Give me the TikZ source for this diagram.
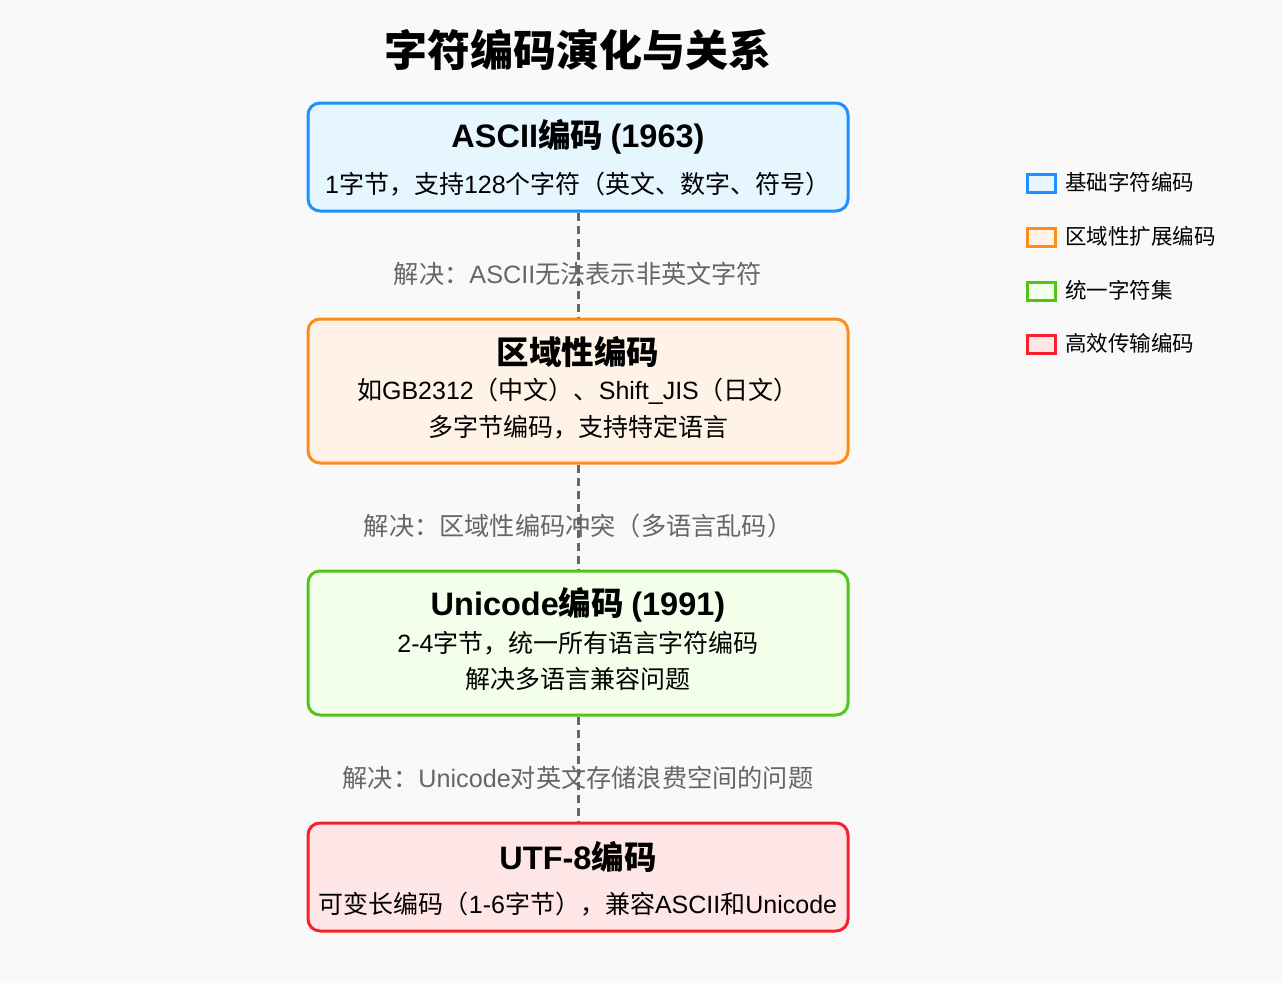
\documentclass[tikz,border=0pt]{standalone}
\usepackage{fontspec}
\setmainfont{Liberation Sans}
\newfontfamily\cjkfont{Noto Sans CJK SC}
\newcommand\latfont{\rmfamily}
\XeTeXinterchartokenstate=1
\newXeTeXintercharclass\cjkcls
\newcount\mycnt
\mycnt="4E00 \loop \XeTeXcharclass\mycnt=\cjkcls \advance\mycnt 1 \ifnum\mycnt<"A000 \repeat
\mycnt="3000 \loop \XeTeXcharclass\mycnt=\cjkcls \advance\mycnt 1 \ifnum\mycnt<"3040 \repeat
\mycnt="FF00 \loop \XeTeXcharclass\mycnt=\cjkcls \advance\mycnt 1 \ifnum\mycnt<"FFF0 \repeat
\XeTeXinterchartoks 0 \cjkcls = {\cjkfont}
\XeTeXinterchartoks 4095 \cjkcls = {\cjkfont}
\XeTeXinterchartoks \cjkcls 0 = {\latfont}
\XeTeXinterchartoks 4095 0 = {\latfont}
\definecolor{bg}{HTML}{F9F9F9}
\definecolor{bluel}{HTML}{1E90FF}
\definecolor{bluef}{HTML}{E6F6FF}
\definecolor{orl}{HTML}{FF8C1A}
\definecolor{orf}{HTML}{FFF3E8}
\definecolor{grl}{HTML}{52C41A}
\definecolor{grf}{HTML}{F4FFEB}
\definecolor{rdl}{HTML}{F5222D}
\definecolor{rdf}{HTML}{FFE6E6}
\definecolor{lblgray}{HTML}{666666}
\tikzset{
  box/.style={rectangle, rounded corners=12pt, line width=3pt, inner sep=0pt, minimum width=540pt},
  ttl/.style={font=\bfseries\fontsize{32.5}{38}\selectfont, inner sep=0pt},
  sub/.style={font=\fontsize{25}{29}\selectfont, inner sep=0pt},
  lbl/.style={font=\fontsize{25.2}{29}\selectfont, text=lblgray, inner sep=0pt},
  conn/.style={draw=lblgray, line width=3pt, dash pattern=on 8pt off 5pt},
  legbox/.style={rectangle, line width=3pt, inner sep=0pt, minimum width=28pt, minimum height=18pt},
  legtxt/.style={font=\fontsize{21.5}{25}\selectfont, anchor=west, inner sep=0pt},
}
\begin{document}
\begin{tikzpicture}[x=1pt,y=-1pt]
\fill[bg] (0,0) rectangle (1283,983);
\useasboundingbox (0,0) rectangle (1283,983);
\node[font=\bfseries\fontsize{43}{50}\selectfont, inner sep=0pt] (title) at (578,50) {字符编码演化与关系};
% boxes
\node[box, draw=bluel, fill=bluef, minimum height=108pt] (b1) at (578,157) {};
\node[box, draw=orl, fill=orf, minimum height=144pt] (b2) at (578,391) {};
\node[box, draw=grl, fill=grf, minimum height=144pt] (b3) at (578,643) {};
\node[box, draw=rdl, fill=rdf, minimum height=108pt] (b4) at (578,877) {};
% box texts
\node[ttl] (t1) at (578,137) {ASCII编码 (1963)};
\node[sub] (s1) at (578,184) {1字节，支持128个字符（英文、数字、符号）};
\node[ttl] (t2) at (578,352) {区域性编码};
\node[sub] (s2a) at (578,391) {如GB2312（中文）、Shift\_JIS（日文）};
\node[sub] (s2b) at (578,427) {多字节编码，支持特定语言};
\node[ttl] (t3) at (578,605) {Unicode编码 (1991)};
\node[sub] (s3a) at (578,643) {2-4字节，统一所有语言字符编码};
\node[sub] (s3b) at (578,679) {解决多语言兼容问题};
\node[ttl] (t4) at (578,857) {UTF-8编码};
\node[sub] (s4) at (578,904) {可变长编码（1-6字节），兼容ASCII和Unicode};
% labels
\node[lbl] (l1) at (578,274) {解决：ASCII无法表示非英文字符};
\node[lbl] (l2) at (578,526) {解决：区域性编码冲突（多语言乱码）};
\node[lbl] (l3) at (578,778) {解决：Unicode对英文存储浪费空间的问题};
% connectors
\draw[conn] (b1.south) -- (b2.north);
\draw[conn] (b2.south) -- (b3.north);
\draw[conn] (b3.south) -- (b4.north);
% legend
\node[legbox, draw=bluel, fill=bluef] (g1) at (1041,183) {};
\node[legtxt] (gt1) at (1065,182) {基础字符编码};
\node[legbox, draw=orl, fill=orf] (g2) at (1041,237) {};
\node[legtxt] (gt2) at (1065,236) {区域性扩展编码};
\node[legbox, draw=grl, fill=grf] (g3) at (1041,291) {};
\node[legtxt] (gt3) at (1065,290) {统一字符集};
\node[legbox, draw=rdl, fill=rdf] (g4) at (1041,344) {};
\node[legtxt] (gt4) at (1065,343) {高效传输编码};
\end{tikzpicture}
\end{document}
